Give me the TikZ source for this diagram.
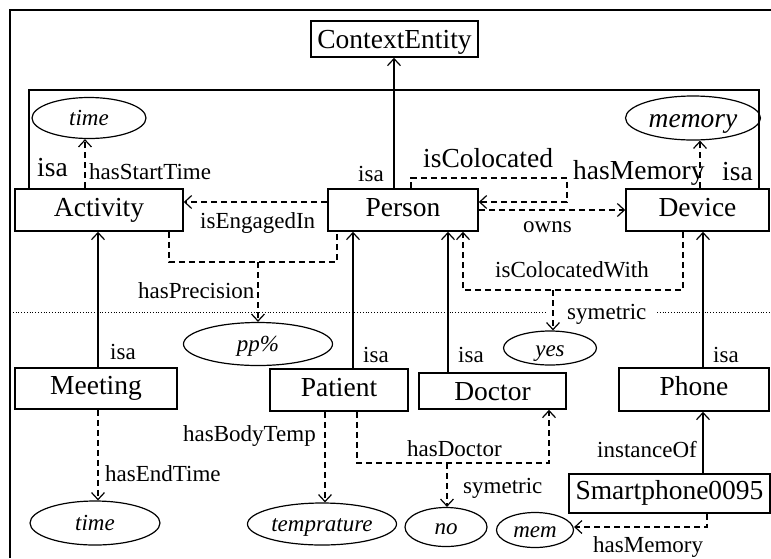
\documentclass[tikz,border=0pt]{standalone}
\usepackage{fontspec}
\setmainfont{Liberation Serif}
\usetikzlibrary{arrows.meta,shapes.geometric}
\begin{document}
\begin{tikzpicture}[x=1pt,y=-1pt,
  box/.style={draw, line width=1.6pt, inner sep=0pt, text height=18.7pt, text depth=6.1pt, font=\fontsize{27.5}{30}\selectfont},
  ell/.style={draw, ellipse, line width=1.2pt, inner sep=0pt, text height=15pt, text depth=0pt, font=\fontsize{23}{25}\selectfont\itshape},
  lab/.style={anchor=base west, inner sep=0pt, font=\fontsize{23}{25}\selectfont},
  biglab/.style={anchor=base west, inner sep=0pt, font=\fontsize{27.5}{30}\selectfont},
  plainln/.style={line width=1.2pt},
  conn/.style={line width=1.2pt, -{Straight Barb[length=7pt,width=13pt]}},
  dconn/.style={conn, dash pattern=on 6pt off 4pt},
  dln/.style={line width=1.2pt, dash pattern=on 6pt off 4pt}]
\useasboundingbox (0,0) rectangle (771,558);
% frame
\draw[line width=1.6pt] (10,558) -- (10,10) -- (771,10);
% boxes
\node[box, text height=18.7pt, text depth=0pt, minimum width=167pt, minimum height=36pt] (ce) at (394.5,39) {ContextEntity};
\node[box, minimum width=168pt, minimum height=42pt] (act) at (99,210) {Activity};
\node[box, minimum width=150pt, minimum height=42pt] (per) at (403,210) {Person};
\node[box, minimum width=143pt, minimum height=42pt] (dev) at (697.5,210) {Device};
\node[box, minimum width=162pt, minimum height=41pt] (meet) at (96,388.5) {Meeting};
\node[box, minimum width=138pt, minimum height=42pt] (pat) at (339,390) {Patient};
\node[box, text height=18.7pt, text depth=0pt, minimum width=147pt, minimum height=36pt] (doc) at (492.5,391) {Doctor};
\node[box, minimum width=150pt, minimum height=43pt] (phone) at (694,389.5) {Phone};
\node[box, minimum width=201pt, minimum height=39pt] (sp) at (669.5,493.5) {Smartphone0095};
% ellipses
\node[ell, minimum width=114pt, minimum height=41pt] (timeA) at (89,118) {time};
\node[ell, minimum width=135pt, minimum height=44pt, text height=18pt, font=\fontsize{27.5}{30}\selectfont\itshape] (memory) at (693,118) {memory};
\node[ell, minimum width=149pt, minimum height=43pt] (pp) at (258,344) {pp\%};
\node[ell, minimum width=93pt, minimum height=34pt, text height=17pt] (yes) at (550,348) {yes};
\node[ell, minimum width=130pt, minimum height=44pt] (timeB) at (95,523) {time};
\node[ell, minimum width=149pt, minimum height=42pt] (temp) at (322,524) {temprature};
\node[ell, minimum width=82pt, minimum height=39pt] (no) at (446,527) {no};
\node[ell, minimum width=77pt, minimum height=35pt] (mem) at (535,530) {mem};
% dotted separator
\draw[dotted, line width=0.8pt] (10,312) -- (545,312);
\draw[dotted, line width=0.8pt] (657,312) -- (771,312);
% isa hierarchy
\draw[plainln] (act.north -| 29,0) -- (29,90) -- (759,90) -- (dev.north -| 759,0);
\draw[conn] (per.north -| 394,0) -- (ce.south -| 394,0);
\draw[conn] (meet.north -| 98,0) -- (act.south -| 98,0);
\draw[conn] (pat.north -| 353,0) -- (per.south -| 353,0);
\draw[conn] (doc.north -| 448,0) -- (per.south -| 448,0);
\draw[conn] (phone.north -| 703,0) -- (dev.south -| 703,0);
\draw[conn] (sp.north -| 703,0) -- (phone.south -| 703,0);
% properties
\draw[dconn] (act.north -| 85,0) -- (timeA.south -| 85,0);
\draw[dconn] (per.west |- 0,202) -- (act.east |- 0,202);
\draw[dln] (act.south -| 169,0) -- (169,262) -- (337,262) -- (per.south -| 337,0);
\draw[dconn] (258,262) -- (pp.north);
\draw[dconn] (per.north -| 411,0) -- (411,178) -- (567,178) -- (567,202) -- (per.east |- 0,202);
\draw[dconn] (per.east |- 0,210) -- (dev.west |- 0,210);
\draw[dconn] (dev.north -| 700,0) -- (memory.south -| 700,0);
\draw[dconn] (dev.south -| 683,0) -- (683,290) -- (463,290) -- (per.south -| 463,0);
\draw[dconn] (553,290) -- (yes.north -| 553,0);
\draw[dconn] (meet.south -| 98,0) -- (timeB.north -| 98,0);
\draw[dconn] (pat.south -| 325,0) -- (temp.north -| 325,0);
\draw[dconn] (pat.south -| 357,0) -- (357,463) -- (549,463) -- (doc.south -| 549,0);
\draw[dconn] (447,463) -- (no.north -| 447,0);
\draw[dconn] (sp.south -| 707,0) -- (707,527) -- (mem.east |- 0,527);
% labels
\node[biglab] (l1) at (37,176) {isa};
\node[lab] (l2) at (89,179) {hasStartTime};
\node[lab] (l3) at (358,181) {isa};
\node[lab] (l4) at (200,228) {isEngagedIn};
\node[biglab] (l5) at (423,167) {isColocated};
\node[biglab] (l6) at (573,179) {hasMemory};
\node[biglab] (l7) at (722,180) {isa};
\node[lab] (l8) at (523,232) {owns};
\node[lab] (l9) at (495,277) {isColocatedWith};
\node[lab] (l10) at (138,298) {hasPrecision};
\node[lab] (l11) at (567,319) {symetric};
\node[lab] (l12) at (110,359) {isa};
\node[lab] (l13) at (363,362) {isa};
\node[lab] (l14) at (458,362) {isa};
\node[lab] (l15) at (713,362) {isa};
\node[lab] (l16) at (183,441) {hasBodyTemp};
\node[lab] (l17) at (105,481) {hasEndTime};
\node[lab] (l18) at (407,456) {hasDoctor};
\node[lab] (l19) at (463,493) {symetric};
\node[lab] (l20) at (597,457) {instanceOf};
\node[lab] (l21) at (593,552) {hasMemory};
\end{tikzpicture}
\end{document}
